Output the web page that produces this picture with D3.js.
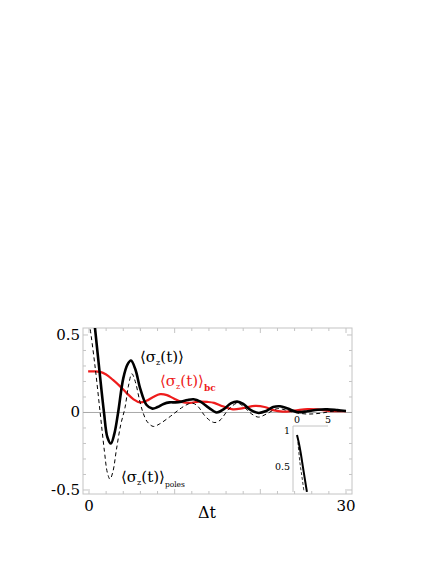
<!DOCTYPE html>
<html>
<head>
<meta charset="utf-8">
<script src="https://cdn.jsdelivr.net/npm/d3@7"></script>
<style>
  html, body { margin: 0; padding: 0; background: #fff; }
</style>
</head>
<body>
<svg id="chart" width="436" height="564"></svg>
<script>
// ---- data ----
const xTickLabels = [0, 30];
const yTickLabels = [0.5, 0, -0.5];
const insetXTickLabels = [0, 5];
const insetYTickLabels = [1, 0.5];

const fullT = [0, 0.7, 1.2, 1.75, 2.15, 2.55, 2.95, 3.4, 4.0, 4.5, 4.9, 5.4, 6.0, 6.7, 7.4, 8.0, 8.7, 9.4, 10.1, 10.8, 11.5, 12.2, 13.0, 14.0, 14.9, 15.7, 16.6, 17.3, 18.0, 18.9, 19.8, 20.7, 21.5, 22.3, 23.2, 24.3, 25.5, 26.7, 27.8, 29.0, 30.0];
const fullV = [0.92, 0.545, 0.28, 0.0, -0.16, -0.2, -0.14, 0.0, 0.22, 0.31, 0.335, 0.28, 0.15, 0.05, 0.025, 0.035, 0.055, 0.065, 0.065, 0.07, 0.08, 0.085, 0.07, 0.03, 0.0, 0.02, 0.06, 0.07, 0.055, 0.015, -0.003, 0.01, 0.035, 0.04, 0.025, 0.003, 0.008, 0.018, 0.02, 0.015, 0.01];

const polesT = [0, 0.12, 0.7, 1.3, 1.8, 2.15, 2.45, 2.8, 3.2, 3.7, 4.2, 4.6, 5.0, 5.4, 5.9, 6.3, 6.8, 7.5, 8.2, 9.5, 10.8, 11.6, 12.1, 12.7, 13.5, 14.2, 14.7, 15.3, 16.3, 17.3, 18.0, 19.0, 19.8, 20.7, 22.0, 23.0, 24.0, 25.5, 27.0, 28.5, 30.0];
const polesV = [0.58, 0.545, 0.3, 0.0, -0.25, -0.39, -0.43, -0.38, -0.24, -0.08, 0.03, 0.17, 0.25, 0.2, 0.08, 0.0, -0.06, -0.09, -0.075, -0.025, 0.03, 0.055, 0.06, 0.04, -0.02, -0.055, -0.065, -0.05, 0.02, 0.06, 0.04, -0.01, -0.03, -0.01, 0.025, 0.015, 0.0, -0.01, -0.005, 0.008, 0.01];

const bcT = [-0.1, 0.5, 1.3, 2.0, 2.8, 3.6, 4.4, 5.2, 5.95, 6.7, 7.5, 8.3, 9.1, 9.9, 10.8, 11.8, 12.8, 13.8, 14.6, 15.6, 16.8, 18.0, 19.4, 20.5, 21.5, 22.6, 24.0, 25.5, 26.6, 28.0, 29.0, 30.0];
const bcV = [0.265, 0.265, 0.262, 0.245, 0.21, 0.17, 0.125, 0.085, 0.065, 0.075, 0.1, 0.118, 0.112, 0.09, 0.068, 0.062, 0.07, 0.068, 0.062, 0.04, 0.02, 0.028, 0.042, 0.035, 0.015, 0.005, 0.012, 0.022, 0.02, 0.01, 0.008, 0.008];

const insetFullT = [0, 0.3, 0.6, 0.95, 1.3, 1.6];
const insetFullV = [0.93, 0.82, 0.68, 0.49, 0.3, 0.14];
const insetPolesT = [0.15, 0.48, 0.8, 1.1];
const insetPolesV = [0.83, 0.54, 0.35, 0.16];

// ---- drawing ----
const svg = d3.select("#chart");
const frame = {left: 83, right: 352, top: 328, bottom: 494};
const FONT = "DejaVu Serif";

const x = d3.scaleLinear().domain([-0.7, 30.7]).range([frame.left, frame.right]);
const y = d3.scaleLinear().domain([-0.526, 0.545]).range([frame.bottom, frame.top]);

const gray = "#c4c4c4";

svg.append("defs").append("clipPath").attr("id", "clip")
  .append("rect").attr("x", frame.left).attr("y", frame.top)
  .attr("width", frame.right - frame.left).attr("height", frame.bottom - frame.top);

// frame
svg.append("rect").attr("x", frame.left).attr("y", frame.top)
  .attr("width", frame.right - frame.left).attr("height", frame.bottom - frame.top)
  .attr("fill", "none").attr("stroke", gray).attr("stroke-width", 1);

// minor ticks on frame
const yMinor = d3.range(-5, 6).map(d => d / 10);
const xMinor = d3.range(0, 31, 2);
const tickG = svg.append("g").attr("stroke", gray).attr("stroke-width", 1);
yMinor.forEach(v => {
  const len = (Math.abs(v * 2 - Math.round(v * 2)) < 1e-9) ? 5 : 3;
  tickG.append("line").attr("x1", frame.left).attr("x2", frame.left + len).attr("y1", y(v)).attr("y2", y(v));
  tickG.append("line").attr("x1", frame.right).attr("x2", frame.right - len).attr("y1", y(v)).attr("y2", y(v));
});
xMinor.forEach(t => {
  const len = (t % 10 === 0) ? 5 : 3;
  tickG.append("line").attr("x1", x(t)).attr("x2", x(t)).attr("y1", frame.bottom).attr("y2", frame.bottom - len);
  tickG.append("line").attr("x1", x(t)).attr("x2", x(t)).attr("y1", frame.top).attr("y2", frame.top + len);
});

// zero line
svg.append("line").attr("x1", frame.left).attr("x2", frame.right)
  .attr("y1", y(0)).attr("y2", y(0)).attr("stroke", "#a8a8a8").attr("stroke-width", 1);

// tick labels
svg.append("g").selectAll("text").data(yTickLabels).join("text")
  .attr("font-family", FONT)
  .attr("x", frame.left - 3).attr("y", d => y(d) + 5)
  .attr("text-anchor", "end").attr("font-size", 15).text(d => d === 0 ? "0" : String(d));
svg.append("g").selectAll("text").data(xTickLabels).join("text")
  .attr("font-family", FONT)
  .attr("x", d => x(d)).attr("y", 511)
  .attr("text-anchor", "middle").attr("font-size", 15).text(d => d);
svg.append("text").attr("font-family", FONT).attr("x", 207).attr("y", 518).attr("text-anchor", "middle")
  .attr("font-size", 16).text("\u0394t");

const line = d3.line().x(d => x(d[0])).y(d => y(d[1])).curve(d3.curveCatmullRom.alpha(0.5));
const plotG = svg.append("g").attr("clip-path", "url(#clip)");

plotG.append("path").datum(d3.zip(bcT, bcV)).attr("d", line)
  .attr("fill", "none").attr("stroke", "#ee1c1c").attr("stroke-width", 2.2);
plotG.append("path").datum(d3.zip(polesT, polesV)).attr("d", line)
  .attr("fill", "none").attr("stroke", "#000").attr("stroke-width", 1).attr("stroke-dasharray", "4,3");
plotG.append("path").datum(d3.zip(fullT, fullV)).attr("d", line)
  .attr("fill", "none").attr("stroke", "#000").attr("stroke-width", 2.6);

// labels
function bracketLabel(px, py, color, sub) {
  const t = svg.append("text").attr("font-family", FONT)
    .attr("x", px).attr("y", py).attr("font-size", 15).attr("fill", color);
  t.append("tspan").text("\u27E8\u03C3");
  t.append("tspan").attr("font-size", 8).attr("dy", 3).text("z");
  t.append("tspan").attr("dy", -3).text("(t)\u27E9");
  if (sub) t.append("tspan").attr("font-size", sub.size).attr("dy", 5)
    .attr("font-weight", sub.bold ? "bold" : "normal").text(sub.text);
}
bracketLabel(140, 362, "#000", null);
bracketLabel(160, 386, "#ee1c1c", {text: "bc", size: 9, bold: true});
bracketLabel(121, 482, "#000", {text: "poles", size: 7.5, bold: false});

// inset
const ix = d3.scaleLinear().domain([0, 5]).range([297, 328]);
const iy = d3.scaleLinear().domain([0.5, 1]).range([466, 430]);
const insetG = svg.append("g");
insetG.append("line").attr("x1", 293).attr("x2", 293).attr("y1", 426).attr("y2", 492)
  .attr("stroke", gray);
insetG.append("line").attr("x1", 293).attr("x2", ix(5)).attr("y1", 426).attr("y2", 426)
  .attr("stroke", gray);
insetG.selectAll("text.ix").data(insetXTickLabels).join("text").attr("class", "ix")
  .attr("font-family", FONT)
  .attr("x", d => ix(d)).attr("y", 423).attr("text-anchor", "middle").attr("font-size", 9.5).text(d => d);
insetG.selectAll("text.iy").data(insetYTickLabels).join("text").attr("class", "iy")
  .attr("font-family", FONT)
  .attr("x", 290).attr("y", d => iy(d) + 4).attr("text-anchor", "end").attr("font-size", 9.5).text(d => d);
const iline = d3.line().x(d => ix(d[0])).y(d => iy(d[1])).curve(d3.curveCatmullRom.alpha(0.5));
insetG.append("path").datum(d3.zip(insetPolesT, insetPolesV)).attr("d", iline)
  .attr("fill", "none").attr("stroke", "#000").attr("stroke-width", 0.8).attr("stroke-dasharray", "3,2");
insetG.append("path").datum(d3.zip(insetFullT, insetFullV)).attr("d", iline)
  .attr("fill", "none").attr("stroke", "#000").attr("stroke-width", 2);
</script>
</body>
</html>
